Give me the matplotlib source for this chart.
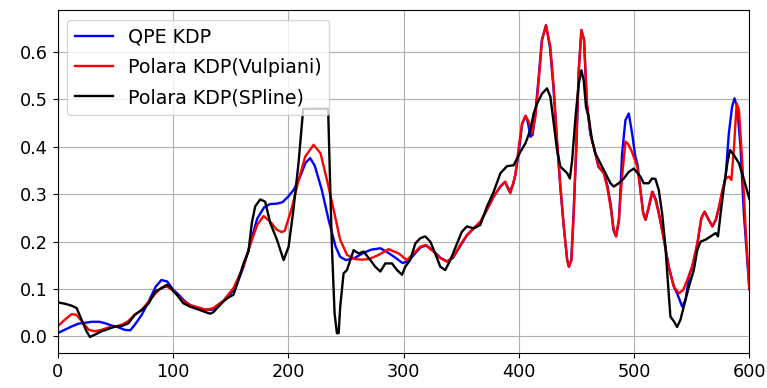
import matplotlib
matplotlib.use('Agg')
import matplotlib.pyplot as plt

# QPE KDP (blue)
qpe_x = [0, 6, 12, 18, 24, 30, 36, 41, 47, 53, 58, 63, 67, 73, 79, 85, 90, 95, 100, 105,
         110, 115, 121, 127, 133, 139, 144, 150, 155, 161, 167, 173, 179, 184, 190, 195, 200, 205, 210, 215,
         219, 223, 229, 235, 241, 245, 250, 258, 265, 272, 280, 287, 293, 299, 304, 310, 315, 320, 326, 332,
         338, 343, 349, 355, 361, 367, 372, 378, 384, 388, 392, 395, 397, 400, 403, 406, 408, 410, 412, 414,
         417, 420, 423.6, 427, 430, 433, 436, 439, 442, 443.5, 445.5, 447.5, 450, 452, 454.3, 456.6, 459, 462, 465, 469,
         474, 477, 480, 482, 484.4, 487, 489.6, 492.5, 495.4, 498.3, 501, 503, 505.5, 508, 510, 513, 516, 519, 521.5, 526,
         530, 534.5, 537.3, 541.7, 544.6, 548, 550.4, 555, 558.3, 561.2, 564, 568, 571, 574, 577, 579.5, 582.2, 585, 587.1, 589.4,
         592.3, 595.2, 600]
qpe_y = [0.007, 0.014, 0.021, 0.027, 0.029, 0.031, 0.031, 0.028, 0.023, 0.019, 0.014, 0.013, 0.025, 0.046, 0.074, 0.105, 0.119, 0.116, 0.099, 0.088,
         0.075, 0.066, 0.061, 0.057, 0.056, 0.062, 0.075, 0.090, 0.108, 0.145, 0.195, 0.248, 0.272, 0.279, 0.280, 0.283, 0.295, 0.310, 0.335, 0.366,
         0.376, 0.360, 0.310, 0.246, 0.190, 0.168, 0.161, 0.166, 0.176, 0.183, 0.186, 0.176, 0.166, 0.155, 0.158, 0.175, 0.188, 0.192, 0.180, 0.166,
         0.158, 0.166, 0.190, 0.213, 0.228, 0.242, 0.266, 0.294, 0.316, 0.326, 0.305, 0.320, 0.340, 0.390, 0.449, 0.465, 0.450, 0.421, 0.425, 0.463,
         0.540, 0.625, 0.656, 0.610, 0.526, 0.414, 0.316, 0.232, 0.161, 0.147, 0.161, 0.260, 0.400, 0.561, 0.646, 0.625, 0.491, 0.428, 0.400, 0.358,
         0.344, 0.316, 0.274, 0.225, 0.211, 0.246, 0.386, 0.456, 0.470, 0.428, 0.380, 0.362, 0.309, 0.260, 0.246, 0.274, 0.305, 0.288, 0.260, 0.204,
         0.147, 0.105, 0.091, 0.063, 0.077, 0.130, 0.147, 0.196, 0.249, 0.263, 0.249, 0.232, 0.246, 0.274, 0.309, 0.340, 0.428, 0.484, 0.502, 0.484,
         0.400, 0.260, 0.100]

# Polara KDP (Vulpiani) (red)
vul_x = [0, 6, 12, 16, 21, 27, 32, 38, 44, 50, 56, 61, 67, 73, 79, 85, 90, 95, 100, 109,
         115, 121, 129, 135, 144, 152.5, 161, 167, 173, 178.6, 184.4, 190, 194.4, 197, 203, 209, 214.7, 222, 228, 233.6,
         239.4, 245, 251, 258, 264, 270, 278.5, 287, 295.8, 302.9, 308.7, 314.5, 318.8, 326, 331.9, 337.6, 343.4, 349.2, 355, 360.8,
         366.6, 372.4, 378.2, 384, 388.3, 392.7, 397, 400, 402.8, 405.7, 408.6, 411.5, 414.4, 417.3, 420.2, 423.6, 427.4, 430.3, 433.2, 436.1,
         439, 442, 443.4, 445.7, 447.7, 449.7, 452, 454.3, 456.6, 459.2, 462.1, 465, 469.3, 473.7, 476.6, 479.5, 482.4, 484.4, 486.7, 489.6,
         492.5, 495, 498, 501, 503, 505.5, 507.8, 509.8, 512.7, 515.6, 518.5, 521.4, 525.8, 530.1, 534.5, 538.8, 542.6, 546.1, 550.4, 554.8,
         558.3, 561.2, 564.1, 567.8, 570.8, 573.7, 576.6, 579.5, 582.4, 584.4, 586.7, 589, 591, 593.9, 596.8, 600]
vul_y = [0.021, 0.035, 0.047, 0.046, 0.032, 0.014, 0.011, 0.014, 0.019, 0.021, 0.025, 0.032, 0.046, 0.056, 0.074, 0.091, 0.103, 0.105, 0.097, 0.074,
         0.066, 0.062, 0.056, 0.060, 0.076, 0.102, 0.147, 0.193, 0.235, 0.254, 0.242, 0.225, 0.220, 0.223, 0.270, 0.330, 0.379, 0.404, 0.386, 0.330,
         0.267, 0.204, 0.172, 0.163, 0.162, 0.163, 0.172, 0.184, 0.175, 0.161, 0.175, 0.189, 0.193, 0.179, 0.165, 0.158, 0.168, 0.193, 0.214, 0.228,
         0.242, 0.267, 0.295, 0.316, 0.326, 0.302, 0.340, 0.400, 0.449, 0.465, 0.453, 0.428, 0.463, 0.540, 0.625, 0.656, 0.610, 0.526, 0.414, 0.316,
         0.232, 0.161, 0.147, 0.161, 0.260, 0.400, 0.561, 0.646, 0.625, 0.491, 0.428, 0.400, 0.358, 0.344, 0.316, 0.274, 0.225, 0.211, 0.246, 0.337,
         0.411, 0.405, 0.390, 0.370, 0.355, 0.309, 0.260, 0.246, 0.274, 0.305, 0.288, 0.260, 0.204, 0.147, 0.105, 0.091, 0.098, 0.119, 0.147, 0.196,
         0.249, 0.263, 0.249, 0.232, 0.246, 0.274, 0.309, 0.333, 0.337, 0.330, 0.400, 0.491, 0.477, 0.365, 0.225, 0.100]

# Polara KDP (SPline) (black)
spl_x = [0, 6.3, 12, 16.4, 20.8, 25, 28, 32.4, 38, 44, 50, 55.6, 61.4, 67, 73, 79, 84.6, 90.4, 94.7, 97.5,
         100.5, 103.3, 109, 114.8, 120.6, 126.4, 132.2, 135, 139.4, 143.8, 148, 152.5, 156.8, 161.2, 165.5, 168.4, 171.3, 175.7, 180, 184.4,
         190.2, 196, 200.3, 204.5, 208.9, 211.8, 213, 234.6, 236.4, 237.9, 240.2, 242.2, 243.7, 245.1, 248, 250.9, 253.8, 256.7, 261, 265.4,
         271.2, 275.5, 279.9, 284.2, 290, 294.4, 298.7, 301.5, 305.8, 310.2, 314.5, 318.8, 323.2, 327.5, 331.9, 336.2, 340.6, 346.4, 350.7, 355,
         360.8, 366.6, 372.4, 378.2, 384, 389.8, 395.6, 401.3, 405.7, 410, 412.9, 415.9, 420.2, 424.5, 427.4, 430.3, 433.2, 436.1, 439, 442,
         444.3, 446.3, 449.2, 452, 454.3, 456.3, 458.3, 460.6, 463.5, 466.4, 470.8, 475.1, 479.5, 482.4, 486.7, 491.1, 495.4, 499.8, 505.5, 508.4,
         512.7, 515.6, 518.5, 521.4, 524.3, 527.2, 529.2, 531.5, 534.5, 537.3, 540.2, 543.1, 547.5, 551.8, 554.8, 557.7, 562, 566.4, 570.8, 572.8,
         575.1, 578, 580.9, 583.2, 586.7, 591, 595.4, 600]
spl_y = [0.072, 0.069, 0.065, 0.060, 0.035, 0.011, -0.001, 0.004, 0.011, 0.016, 0.021, 0.022, 0.028, 0.046, 0.056, 0.070, 0.095, 0.102, 0.109, 0.105,
         0.095, 0.088, 0.070, 0.063, 0.058, 0.053, 0.048, 0.051, 0.063, 0.074, 0.082, 0.088, 0.119, 0.154, 0.179, 0.239, 0.274, 0.289, 0.284, 0.239,
         0.204, 0.161, 0.189, 0.267, 0.365, 0.445, 0.480, 0.480, 0.316, 0.189, 0.049, 0.007, 0.007, 0.063, 0.133, 0.140, 0.161, 0.182, 0.175, 0.179,
         0.161, 0.147, 0.137, 0.154, 0.154, 0.140, 0.130, 0.147, 0.161, 0.196, 0.207, 0.211, 0.200, 0.175, 0.147, 0.140, 0.161, 0.196, 0.221, 0.232,
         0.228, 0.235, 0.274, 0.305, 0.344, 0.359, 0.361, 0.389, 0.407, 0.435, 0.470, 0.491, 0.512, 0.523, 0.505, 0.449, 0.393, 0.358, 0.351, 0.344,
         0.333, 0.372, 0.463, 0.533, 0.561, 0.540, 0.484, 0.463, 0.414, 0.386, 0.365, 0.344, 0.323, 0.316, 0.323, 0.333, 0.347, 0.354, 0.337, 0.323,
         0.323, 0.333, 0.332, 0.309, 0.260, 0.189, 0.119, 0.042, 0.032, 0.020, 0.035, 0.063, 0.105, 0.140, 0.182, 0.200, 0.204, 0.211, 0.218, 0.211,
         0.260, 0.316, 0.365, 0.393, 0.382, 0.365, 0.330, 0.290]

fig = plt.figure(figsize=(7.67, 3.88), dpi=100)
ax = fig.add_axes([0.0752, 0.09, 0.9018, 0.884])

ax.plot(qpe_x, qpe_y, color='blue', lw=1.7, label='QPE KDP')
ax.plot(vul_x, vul_y, color='red', lw=1.7, label='Polara KDP(Vulpiani)')
ax.plot(spl_x, spl_y, color='black', lw=1.7, label='Polara KDP(SPline)')

ax.set_xlim(0, 600)
ax.set_ylim(-0.035, 0.688)
ax.set_xticks([0, 100, 200, 300, 400, 500, 600])
ax.set_yticks([0.0, 0.1, 0.2, 0.3, 0.4, 0.5, 0.6])
ax.tick_params(labelsize=12.7)
ax.grid(True)
ax.legend(loc='upper left', fontsize=13.7, labelspacing=0.6)

fig.savefig('out.png', dpi=100)
